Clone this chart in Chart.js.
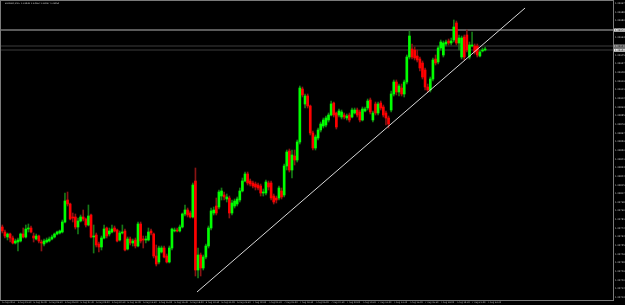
<!DOCTYPE html>
<html><head><meta charset="utf-8">
<script src="https://cdn.jsdelivr.net/npm/chart.js@4.4.1/dist/chart.umd.min.js"></script>
<style>html,body{margin:0;padding:0;background:#000;overflow:hidden}canvas{display:block}</style>
</head><body>
<canvas id="c" width="625" height="305"></canvas>
<script>
const symbolTitle = "EURUSD,M15  1.33948 1.33952 1.33947 1.33950";

const openP = [
1.33773,1.33768,1.33763,1.33766,1.33762,1.33757,1.33758,1.33759,1.33766,1.33763,
1.33771,1.33772,1.33764,1.33761,1.33764,1.33758,1.33756,1.33758,1.33759,1.33761,
1.33763,1.33766,1.33767,1.33768,1.33778,1.33800,1.33796,1.33783,1.33783,1.33773,
1.33779,1.33783,1.33781,1.33775,1.33785,1.33763,1.33765,1.33756,1.33753,1.33762,
1.33772,1.33766,1.33768,1.33772,1.33770,1.33760,1.33767,1.33769,1.33751,1.33761,
1.33757,1.33760,1.33754,1.33776,1.33761,1.33760,1.33760,1.33769,1.33766,1.33744,
1.33738,1.33748,1.33752,1.33744,1.33738,1.33752,1.33769,1.33770,1.33769,1.33773,
1.33786,1.33790,1.33787,1.33783,1.33819,1.33730,1.33745,1.33732,1.33743,1.33754,
1.33772,1.33787,1.33794,1.33793,1.33804,1.33805,1.33801,1.33802,1.33787,1.33794,
1.33796,1.33800,1.33809,1.33819,1.33826,1.33819,1.33817,1.33816,1.33815,1.33814,
1.33807,1.33807,1.33817,1.33817,1.33804,1.33802,1.33802,1.33809,1.33805,1.33834,
1.33849,1.33830,1.33844,1.33840,1.33858,1.33911,1.33896,1.33904,1.33894,1.33867,
1.33852,1.33862,1.33870,1.33874,1.33875,1.33880,1.33885,1.33897,1.33887,1.33885,
1.33883,1.33885,1.33882,1.33885,1.33883,1.33887,1.33890,1.33888,1.33880,1.33889,
1.33892,1.33900,1.33880,1.33896,1.33887,1.33897,1.33893,1.33887,1.33882,1.33890,
1.33906,1.33918,1.33908,1.33912,1.33906,1.33918,1.33943,1.33951,1.33950,1.33944,
1.33941,1.33937,1.33930,1.33913,1.33910,1.33921,1.33941,1.33938,1.33952,1.33945,
1.33956,1.33959,1.33957,1.33960,1.33977,1.33957,1.33943,1.33963,1.33965,1.33943,
1.33954,1.33954,1.33954,1.33944,1.33949,1.33950];

const closeP = [
1.33769,1.33764,1.33766,1.33762,1.33757,1.33759,1.33760,1.33766,1.33763,1.33771,
1.33772,1.33768,1.33762,1.33764,1.33759,1.33757,1.33759,1.33760,1.33761,1.33763,
1.33766,1.33768,1.33769,1.33778,1.33799,1.33796,1.33781,1.33782,1.33773,1.33779,
1.33783,1.33781,1.33775,1.33784,1.33763,1.33764,1.33755,1.33753,1.33762,1.33771,
1.33764,1.33769,1.33771,1.33769,1.33759,1.33767,1.33768,1.33750,1.33761,1.33757,
1.33759,1.33754,1.33776,1.33759,1.33760,1.33761,1.33768,1.33767,1.33744,1.33736,
1.33752,1.33752,1.33743,1.33738,1.33752,1.33771,1.33770,1.33769,1.33773,1.33786,
1.33790,1.33785,1.33783,1.33815,1.33730,1.33745,1.33732,1.33743,1.33754,1.33772,
1.33789,1.33790,1.33787,1.33808,1.33809,1.33803,1.33803,1.33787,1.33797,1.33799,
1.33801,1.33809,1.33819,1.33826,1.33817,1.33816,1.33814,1.33813,1.33812,1.33807,
1.33808,1.33818,1.33813,1.33802,1.33798,1.33800,1.33812,1.33803,1.33834,1.33848,
1.33830,1.33845,1.33840,1.33858,1.33912,1.33905,1.33904,1.33894,1.33867,1.33852,
1.33863,1.33870,1.33876,1.33880,1.33882,1.33885,1.33896,1.33885,1.33873,1.33889,
1.33888,1.33883,1.33884,1.33880,1.33890,1.33890,1.33885,1.33880,1.33891,1.33891,
1.33899,1.33888,1.33887,1.33887,1.33896,1.33892,1.33885,1.33882,1.33876,1.33906,
1.33918,1.33908,1.33914,1.33906,1.33918,1.33943,1.33964,1.33943,1.33942,1.33940,
1.33932,1.33923,1.33913,1.33910,1.33921,1.33940,1.33937,1.33952,1.33958,1.33957,
1.33958,1.33957,1.33959,1.33973,1.33957,1.33962,1.33962,1.33943,1.33950,1.33955,
1.33955,1.33948,1.33945,1.33948,1.33950,1.33951];

const highP = [
1.33775,1.33770,1.33767,1.33767,1.33764,1.33761,1.33762,1.33767,1.33772,1.33775,
1.33776,1.33774,1.33767,1.33766,1.33765,1.33760,1.33761,1.33762,1.33763,1.33765,
1.33767,1.33769,1.33770,1.33780,1.33807,1.33808,1.33797,1.33787,1.33786,1.33782,
1.33785,1.33790,1.33782,1.33795,1.33786,1.33775,1.33767,1.33758,1.33764,1.33775,
1.33773,1.33772,1.33775,1.33774,1.33771,1.33769,1.33775,1.33771,1.33763,1.33763,
1.33761,1.33762,1.33778,1.33778,1.33764,1.33764,1.33772,1.33771,1.33767,1.33755,
1.33754,1.33754,1.33754,1.33746,1.33754,1.33772,1.33772,1.33772,1.33775,1.33787,
1.33795,1.33792,1.33789,1.33817,1.33832,1.33752,1.33747,1.33745,1.33756,1.33774,
1.33792,1.33793,1.33802,1.33810,1.33812,1.33808,1.33806,1.33804,1.33800,1.33801,
1.33803,1.33812,1.33822,1.33828,1.33828,1.33821,1.33819,1.33818,1.33817,1.33816,
1.33811,1.33820,1.33819,1.33819,1.33806,1.33804,1.33814,1.33812,1.33836,1.33850,
1.33851,1.33850,1.33850,1.33860,1.33914,1.33913,1.33906,1.33906,1.33895,1.33869,
1.33865,1.33872,1.33878,1.33882,1.33884,1.33887,1.33899,1.33898,1.33888,1.33891,
1.33890,1.33887,1.33886,1.33887,1.33892,1.33892,1.33892,1.33890,1.33893,1.33893,
1.33901,1.33902,1.33889,1.33898,1.33898,1.33899,1.33895,1.33889,1.33884,1.33909,
1.33920,1.33920,1.33916,1.33916,1.33920,1.33945,1.33969,1.33956,1.33953,1.33950,
1.33943,1.33939,1.33932,1.33916,1.33923,1.33942,1.33945,1.33954,1.33960,1.33959,
1.33960,1.33961,1.33962,1.33980,1.33979,1.33965,1.33964,1.33965,1.33970,1.33958,
1.33968,1.33956,1.33956,1.33950,1.33952,1.33953];

const lowP = [
1.33767,1.33762,1.33760,1.33758,1.33756,1.33756,1.33749,1.33758,1.33762,1.33762,
1.33768,1.33767,1.33758,1.33760,1.33757,1.33749,1.33754,1.33757,1.33758,1.33760,
1.33762,1.33765,1.33766,1.33767,1.33777,1.33794,1.33780,1.33778,1.33771,1.33766,
1.33778,1.33779,1.33773,1.33774,1.33762,1.33747,1.33753,1.33748,1.33750,1.33761,
1.33762,1.33764,1.33767,1.33768,1.33758,1.33759,1.33766,1.33749,1.33750,1.33755,
1.33754,1.33752,1.33753,1.33757,1.33752,1.33757,1.33759,1.33765,1.33742,1.33734,
1.33736,1.33747,1.33742,1.33737,1.33737,1.33750,1.33768,1.33768,1.33768,1.33772,
1.33784,1.33783,1.33782,1.33782,1.33724,1.33722,1.33724,1.33730,1.33741,1.33752,
1.33770,1.33785,1.33785,1.33791,1.33800,1.33800,1.33798,1.33782,1.33785,1.33792,
1.33794,1.33798,1.33808,1.33818,1.33815,1.33814,1.33812,1.33810,1.33810,1.33804,
1.33804,1.33805,1.33810,1.33800,1.33796,1.33797,1.33800,1.33801,1.33803,1.33830,
1.33828,1.33822,1.33835,1.33838,1.33856,1.33903,1.33892,1.33892,1.33865,1.33850,
1.33850,1.33860,1.33868,1.33872,1.33873,1.33878,1.33884,1.33883,1.33871,1.33883,
1.33881,1.33881,1.33880,1.33878,1.33882,1.33886,1.33883,1.33878,1.33879,1.33888,
1.33890,1.33886,1.33878,1.33885,1.33885,1.33890,1.33883,1.33875,1.33872,1.33888,
1.33904,1.33905,1.33904,1.33904,1.33903,1.33916,1.33941,1.33941,1.33940,1.33938,
1.33929,1.33921,1.33910,1.33908,1.33908,1.33919,1.33935,1.33936,1.33950,1.33943,
1.33954,1.33955,1.33955,1.33958,1.33955,1.33950,1.33941,1.33940,1.33948,1.33941,
1.33953,1.33946,1.33943,1.33943,1.33948,1.33949];

const timeTickIndex = [0,6,12,18,24,30,36,42,48,54,60,66,72,78,84,90,96,102,108,114,120,126,132,138,144,150,156,162,168,174,180,186];
const timeLabels = ["6 Aug 2014","6 Aug 01:30","6 Aug 03:00","6 Aug 04:30","6 Aug 06:00","6 Aug 07:30","6 Aug 09:00","6 Aug 10:30",
"6 Aug 12:00","6 Aug 13:30","6 Aug 15:00","6 Aug 16:30","6 Aug 18:00","6 Aug 19:30","6 Aug 21:00","6 Aug 22:30",
"7 Aug 00:00","7 Aug 01:30","7 Aug 03:00","7 Aug 04:30","7 Aug 06:00","7 Aug 07:30","7 Aug 09:00","7 Aug 10:30",
"7 Aug 12:00","7 Aug 13:30","7 Aug 15:00","7 Aug 16:30","7 Aug 18:00","7 Aug 19:30","7 Aug 21:00","7 Aug 22:30"];

const priceTicks = [1.33703,1.33712,1.33720,1.33729,1.33738,1.33746,1.33755,1.33764,1.33772,1.33781,1.33790,1.33798,
1.33807,1.33815,1.33824,1.33833,1.33841,1.33850,1.33859,1.33867,1.33876,1.33885,1.33893,1.33902,1.33911,1.33919,
1.33928,1.33937,1.33945,1.33954,1.33963,1.33971,1.33980,1.33988,1.33997];

const levelPrices = [1.33970, 1.33954, 1.33950];
const trendX = [74.6, 200.3];
const trendY = [1.33708, 1.33992];

const X_MIN = -0.5, X_MAX = 234, Y_MIN = 1.33700, Y_MAX = 1.33999;

const idx = openP.map((_, i) => i);
const isUp = i => closeP[i] >= openP[i];

const bodyData = idx.map(i => ({x: i, y: [openP[i], closeP[i]]}));
const wickData = idx.map(i => ({x: i, y: [lowP[i], highP[i]]}));

const levelStyles = [
  {line: '#b4b4b4', box: '#e6e6e6', text: '#000'},
  {line: '#3c3c3c', box: '#9a9a9a', text: '#000'},
  {line: '#3c3c3c', box: '#f0f0f0', text: '#000'}
];

const levelSets = levelPrices.map((p, k) => ({
  type: 'line',
  data: [{x: X_MIN, y: p}, {x: X_MAX, y: p}],
  borderColor: levelStyles[k].line,
  borderWidth: 1,
  pointRadius: 0,
  order: 5
}));

const mt4Plugin = {
  id: 'mt4',
  beforeDraw(chart) {
    const ctx = chart.ctx;
    ctx.save();
    ctx.fillStyle = '#000';
    ctx.fillRect(0, 0, chart.width, chart.height);
    ctx.restore();
  },
  afterDraw(chart) {
    const {ctx, chartArea: a} = chart;
    const ys = chart.scales.y;
    ctx.save();
    ctx.strokeStyle = '#7a7a7a';
    ctx.lineWidth = 1;
    ctx.strokeRect(a.left - 0.5, a.top - 0.5, a.right - a.left + 1, a.bottom - a.top + 1);
    ctx.fillStyle = '#c8c8c8';
    ctx.font = '2.2px "DejaVu Sans"';
    ctx.textBaseline = 'middle';
    ctx.textAlign = 'left';
    ctx.fillText(symbolTitle, a.left + 4, a.top + 2.2);
    levelPrices.forEach((p, k) => {
      const yy = Math.round(ys.getPixelForValue(p));
      ctx.fillStyle = levelStyles[k].box;
      ctx.fillRect(a.right + 1, yy - 1.5, 11, 3.2);
      ctx.fillStyle = levelStyles[k].text;
      ctx.font = '2.4px "DejaVu Sans"';
      ctx.fillText(p.toFixed(5), a.right + 2, yy + 0.1);
    });
    ctx.restore();
  }
};

new Chart(document.getElementById('c'), {
  type: 'bar',
  data: {
    datasets: [
      {
        type: 'line',
        data: trendX.map((x, k) => ({x, y: trendY[k]})),
        borderColor: '#d8d8d8',
        borderWidth: 1,
        pointRadius: 0,
        order: 0
      },
      {
        type: 'bar',
        data: bodyData,
        backgroundColor: idx.map(i => isUp(i) ? '#00ff00' : '#ff0000'),
        barThickness: 2,
        minBarLength: 1,
        grouped: false,
        order: 1
      },
      {
        type: 'bar',
        data: wickData,
        backgroundColor: idx.map(i => isUp(i) ? '#167a16' : '#8a1414'),
        barThickness: 1,
        grouped: false,
        order: 2
      },
      ...levelSets
    ]
  },
  options: {
    responsive: false,
    animation: false,
    devicePixelRatio: 1,
    layout: {padding: {left: 1, top: 1, right: 0, bottom: 0}},
    plugins: {legend: {display: false}, tooltip: {enabled: false}, title: {display: false}},
    scales: {
      x: {
        type: 'linear',
        offset: false,
        min: X_MIN, max: X_MAX,
        grid: {display: false, drawTicks: false, offset: false},
        border: {display: false},
        ticks: {
          color: '#bdbdbd',
          font: {size: 2.2, family: 'DejaVu Sans'},
          padding: 1,
          autoSkip: false,
          maxRotation: 0, minRotation: 0,
          align: 'start',
          callback: (v, i) => timeLabels[i] ?? ''
        },
        afterBuildTicks: s => { s.ticks = timeTickIndex.map(v => ({value: v})); },
        afterFit: s => { s.height = 5; s.paddingLeft = 0; s.paddingRight = 0; }
      },
      y: {
        type: 'linear',
        position: 'right',
        min: Y_MIN, max: Y_MAX,
        grid: {display: false, drawTicks: false},
        border: {display: false},
        ticks: {
          color: '#bdbdbd',
          font: {size: 2.4, family: 'DejaVu Sans'},
          padding: 2,
          autoSkip: false,
          callback: v => v.toFixed(5)
        },
        afterBuildTicks: s => { s.ticks = priceTicks.map(v => ({value: v})); },
        afterFit: s => { s.width = 12; s.paddingTop = 0; s.paddingBottom = 0; }
      }
    }
  },
  plugins: [mt4Plugin]
});
</script>
</body></html>
